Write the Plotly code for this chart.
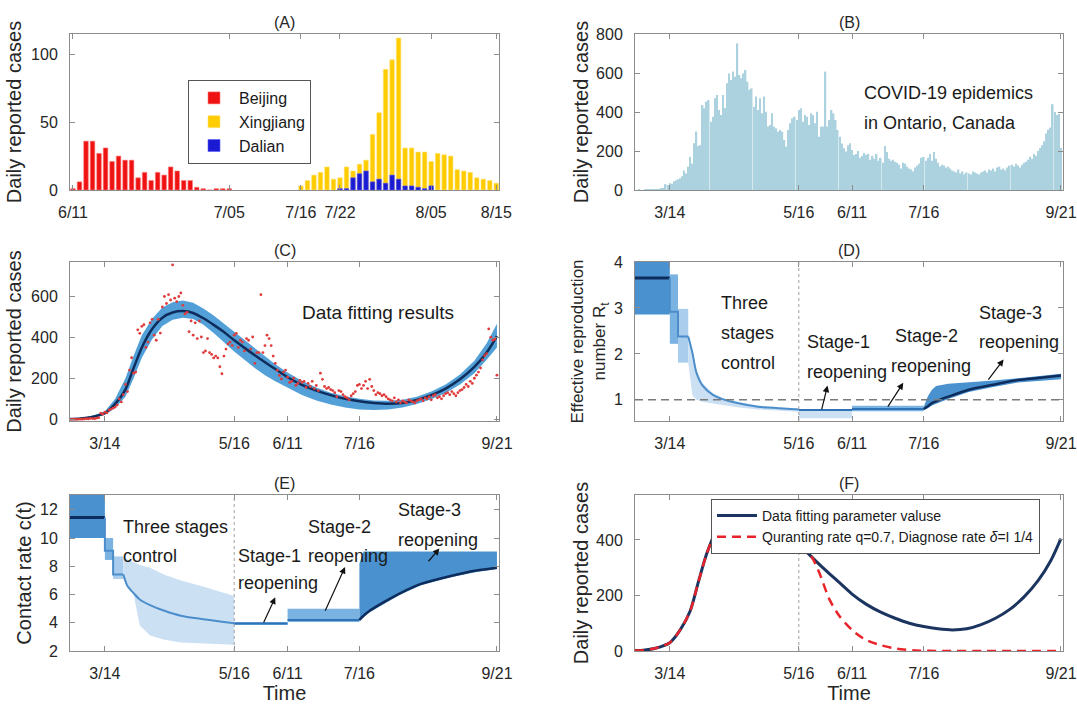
import plotly.graph_objects as go
import pandas as pd

FONT = "Liberation Sans, Arial, sans-serif"
W, H = 1077, 711

# ---------------- Panel A data ----------------
beijing_start = "2020-06-11"
beijing_cases = [1, 6, 36, 36, 27, 31, 21, 25, 22, 22, 9, 13, 7, 13, 11, 17, 14, 7, 7, 2, 1, 0, 1, 1, 1]
xinjiang_start = "2020-07-16"
xinjiang_cases = [3, 7, 11, 13, 17, 8, 9, 17, 14, 19, 22, 41, 57, 89, 96, 112,
                  31, 31, 28, 28, 21, 27, 26, 25, 15, 14, 13, 9, 8, 7, 5]
dalian_start = "2020-07-22"
dalian_cases = [1, 1, 9, 12, 14, 6, 8, 5, 11, 8, 3, 3, 2, 1, 3]
a_tickvals = ["2020-06-11", "2020-07-05", "2020-07-16", "2020-07-22", "2020-08-05", "2020-08-15"]
a_ticktext = ["6/11", "7/05", "7/16", "7/22", "8/05", "8/15"]

# ---------------- Ontario daily reported cases (panels B, C) ----------------
ontario_start = "2020-02-26"
ont_feb = [0, 0, 1, 0]
ont_mar = [0, 1, 1, 2, 3, 2, 5, 4, 3, 6, 8, 30, 25, 35, 32, 45, 50, 55, 60, 70,
           100, 85, 120, 170, 135, 240, 300, 225, 230, 436, 419]
ont_apr = [453, 461, 350, 376, 470, 487, 410, 385, 487, 420, 547, 598, 564, 607, 581,
           752, 590, 573, 598, 615, 555, 513, 521, 427, 479, 410, 470, 393, 479, 401]
ont_may = [325, 333, 393, 325, 316, 299, 308, 299, 256, 222, 308, 342, 367, 376, 359, 410,
           419, 350, 385, 376, 333, 393, 385, 342, 401, 273, 325, 325, 607, 325, 359]
ont_jun = [410, 393, 359, 308, 273, 239, 214, 197, 230, 240, 205, 180, 185, 200, 165,
           175, 190, 180, 185, 155, 175, 160, 185, 150, 165, 140, 225, 195, 160, 150]
ont_jul = [155, 145, 140, 130, 110, 140, 135, 120, 110, 105, 95, 115, 125, 135, 165, 170,
           150, 165, 185, 150, 195, 160, 140, 120, 130, 125, 115, 120, 110, 100, 95]
ont_aug = [90, 105, 85, 95, 80, 90, 85, 80, 95, 90, 85, 80, 90, 95, 100, 90,
           105, 100, 110, 95, 115, 120, 105, 110, 100, 115, 125, 130, 120, 135, 125]
ont_sep = [115, 130, 140, 145, 155, 170, 160, 185, 175, 200, 215, 230, 250, 290, 310,
           320, 440, 400, 385, 390, 215]
ont_cases = ont_feb + ont_mar + ont_apr + ont_may + ont_jun + ont_jul + ont_aug + ont_sep
ont_dates = pd.date_range(ontario_start, periods=len(ont_cases), freq="D")

t_tickvals = ["2020-03-14", "2020-05-16", "2020-06-11", "2020-07-16", "2020-09-21"]
t_ticktext = ["3/14", "5/16", "6/11", "7/16", "9/21"]

# ---------------- Panel C / F: model fit ----------------
fit_dates = ["2020-02-26", "2020-03-01", "2020-03-07", "2020-03-14", "2020-03-19", "2020-03-24",
             "2020-03-28", "2020-04-01", "2020-04-06", "2020-04-11", "2020-04-16", "2020-04-21",
             "2020-04-26", "2020-05-01", "2020-05-06", "2020-05-11", "2020-05-16", "2020-05-21",
             "2020-05-26", "2020-05-31", "2020-06-05", "2020-06-11", "2020-06-18", "2020-06-25",
             "2020-07-02", "2020-07-09", "2020-07-16", "2020-07-23", "2020-07-30", "2020-08-06",
             "2020-08-13", "2020-08-20", "2020-08-27", "2020-09-03", "2020-09-10", "2020-09-16",
             "2020-09-21"]
fit_cases = [2, 3, 10, 30, 75, 145, 250, 350, 440, 495, 520, 527, 518, 492, 460, 425, 385, 348,
             312, 278, 245, 205, 168, 140, 118, 100, 88, 80, 76, 80, 95, 118, 150, 195, 255, 325, 405]
fit_upper = [4, 5, 14, 40, 100, 200, 310, 410, 490, 545, 570, 578, 568, 540, 505, 465, 425, 385,
             345, 305, 268, 228, 188, 155, 130, 112, 100, 92, 90, 95, 110, 135, 170, 218, 285, 370, 465]
fit_lower = [0, 1, 7, 22, 55, 110, 200, 300, 390, 455, 485, 495, 488, 460, 420, 375, 330, 290,
             250, 215, 185, 152, 118, 92, 72, 58, 48, 45, 48, 58, 75, 98, 128, 170, 225, 290, 350]

q_dates = ["2020-02-26", "2020-03-01", "2020-03-07", "2020-03-14", "2020-03-19", "2020-03-24",
           "2020-03-28", "2020-04-01", "2020-04-06", "2020-04-11", "2020-04-16", "2020-04-21",
           "2020-04-26", "2020-05-01", "2020-05-06", "2020-05-11", "2020-05-16", "2020-05-19",
           "2020-05-21", "2020-05-23", "2020-05-26", "2020-05-31", "2020-06-05", "2020-06-12",
           "2020-06-18", "2020-06-25", "2020-07-03", "2020-07-12", "2020-07-25", "2020-08-15",
           "2020-09-21"]
q_cases = [2, 3, 10, 30, 75, 145, 250, 350, 440, 495, 520, 527, 518, 492, 460, 425, 385, 368,
           352, 330, 282, 185, 124, 69, 39, 21, 8, 2, 0, 0, 0]

# ---------------- Panel D: effective reproduction number ----------------
d0_dates = ["2020-02-26", "2020-03-14"]
d0_line, d0_lo, d0_hi = [3.65, 3.65], [2.86, 2.86], [4.0, 4.0]
d_step_dates = ["2020-03-14", "2020-03-18", "2020-03-23"]
d_step_line, d_step_lo, d_step_hi = [2.92, 2.38], [2.22, 1.81], [3.73, 2.98]
d_ctrl_dates = ["2020-03-23", "2020-03-25", "2020-03-27", "2020-03-30", "2020-04-04",
                "2020-04-09", "2020-04-16", "2020-04-26", "2020-05-06", "2020-05-16"]
d_ctrl_line = [2.38, 2.03, 1.59, 1.31, 1.11, 1.01, 0.93, 0.85, 0.82, 0.79]
d_ctrl_lo = [1.81, 1.10, 1.00, 0.96, 0.92, 0.88, 0.84, 0.79, 0.76, 0.74]
d_ctrl_hi = [2.45, 2.10, 1.65, 1.36, 1.15, 1.04, 0.96, 0.88, 0.84, 0.81]
d_s1_dates = ["2020-05-16", "2020-06-11"]
d_s1_line, d_s1_lo, d_s1_hi = [0.78, 0.78], [0.60, 0.60], [0.80, 0.80]
d_s2_dates = ["2020-06-11", "2020-07-16"]
d_s2_line, d_s2_lo, d_s2_hi = [0.80, 0.80], [0.75, 0.75], [0.87, 0.87]
d_s3_dates = ["2020-07-16", "2020-07-18", "2020-07-20", "2020-07-22", "2020-07-28",
              "2020-08-07", "2020-08-19", "2020-08-31", "2020-09-11", "2020-09-21"]
d_s3_line = [0.80, 0.86, 0.93, 0.97, 1.07, 1.22, 1.33, 1.43, 1.48, 1.53]
d_s3_hi = [0.85, 1.08, 1.22, 1.30, 1.35, 1.38, 1.42, 1.47, 1.52, 1.57]
d_s3_lo = [0.78, 0.82, 0.88, 0.92, 1.02, 1.17, 1.28, 1.38, 1.42, 1.45]

# ---------------- Panel E: contact rate ----------------
e0_dates = ["2020-02-26", "2020-03-14"]
e0_line, e0_lo, e0_hi = [11.45, 11.45], [10.0, 10.0], [13.05, 13.05]
e_step_dates = ["2020-03-14", "2020-03-18", "2020-03-23"]
e_step_line, e_step_lo, e_step_hi = [9.1, 7.42], [8.45, 7.1], [10.0, 8.7]
e_ctrl_dates = ["2020-03-23", "2020-03-25", "2020-03-28", "2020-03-31", "2020-04-05",
                "2020-04-12", "2020-04-20", "2020-04-30", "2020-05-10", "2020-05-16"]
e_ctrl_line = [7.42, 6.6, 6.1, 5.65, 5.25, 4.85, 4.5, 4.27, 4.08, 3.97]
e_ctrl_hi = [8.6, 8.5, 8.3, 8.1, 7.9, 7.4, 7.0, 6.6, 6.15, 5.9]
e_ctrl_lo = [7.1, 6.5, 6.0, 3.8, 3.1, 2.8, 2.6, 2.52, 2.48, 2.45]
e_s1_dates = ["2020-05-16", "2020-06-11"]
e_s1_line, e_s1_lo, e_s1_hi = [3.95, 3.95], [3.85, 3.85], [4.05, 4.05]
e_s2_dates = ["2020-06-11", "2020-07-16"]
e_s2_line, e_s2_lo, e_s2_hi = [4.2, 4.2], [4.05, 4.05], [5.0, 5.0]
e_s3_dates = ["2020-07-16", "2020-07-18", "2020-07-21", "2020-07-26", "2020-08-05",
              "2020-08-15", "2020-08-29", "2020-09-11", "2020-09-21"]
e_s3_line = [4.2, 4.5, 4.85, 5.3, 6.1, 6.75, 7.3, 7.7, 7.9]
e_s3_hi = [8.2, 9.05, 9.05, 9.05, 9.05, 9.05, 9.05, 9.05, 9.05]
e_s3_lo = [4.1, 4.4, 4.75, 5.2, 6.0, 6.65, 7.2, 7.6, 7.8]

# ---------------- colours ----------------
NAVY = "#0e2d5c"
CTRL = "#4b8ecb"
MID = "#2f72b6"
DARK = "rgb(74,146,207)"
MED = "rgb(122,178,226)"
LIGHT = "rgb(170,205,237)"
PALE = "rgb(204,224,244)"
CBAND = "rgb(82,160,215)"
DAY = 86400000

fig = go.Figure()


def band(xs, lo, hi, color, xa, ya):
    xs = list(xs)
    return go.Scatter(x=xs + xs[::-1], y=list(hi) + list(lo)[::-1], fill="toself",
                      fillcolor=color, line=dict(width=0), mode="lines",
                      hoverinfo="skip", showlegend=False, xaxis=xa, yaxis=ya)


def line(xs, ys, color, width, xa, ya, shape="linear", dash=None):
    return go.Scatter(x=list(xs), y=list(ys), mode="lines",
                      line=dict(color=color, width=width, shape=shape, dash=dash, smoothing=0.7),
                      hoverinfo="skip", showlegend=False, xaxis=xa, yaxis=ya)


# Panel A
fig.add_trace(go.Bar(x=pd.date_range(beijing_start, periods=len(beijing_cases)), y=beijing_cases,
                     width=0.7 * DAY, name="Beijing", legend="legend",
                     marker=dict(color="#ee1212", line=dict(color="#ff7b7b", width=0.6)),
                     xaxis="x", yaxis="y"))
fig.add_trace(go.Bar(x=pd.date_range(xinjiang_start, periods=len(xinjiang_cases)), y=xinjiang_cases,
                     width=0.7 * DAY, name="Xingjiang", legend="legend",
                     marker=dict(color="#ffcc00", line=dict(color="#ffe27a", width=0.6)),
                     xaxis="x", yaxis="y"))
fig.add_trace(go.Bar(x=pd.date_range(dalian_start, periods=len(dalian_cases)), y=dalian_cases,
                     width=0.7 * DAY, name="Dalian", legend="legend",
                     marker=dict(color="#1a1ad2", line=dict(color="#5b5bff", width=0.6)),
                     xaxis="x", yaxis="y"))

# Panel B
fig.add_trace(go.Bar(x=ont_dates, y=ont_cases, width=0.75 * DAY, showlegend=False,
                     marker=dict(color="rgb(172,210,223)", line=dict(width=0)),
                     xaxis="x2", yaxis="y2"))

# Panel C
fig.add_trace(band(fit_dates, fit_lower, fit_upper, CBAND, "x3", "y3"))
fig.add_trace(line(fit_dates, fit_cases, NAVY, 2.5, "x3", "y3", shape="spline"))
fig.add_trace(go.Scatter(x=ont_dates, y=ont_cases, mode="markers", showlegend=False,
                         marker=dict(color="#e03a3a", size=2.8), hoverinfo="skip",
                         xaxis="x3", yaxis="y3"))

# Panel D
fig.add_trace(band(d0_dates, d0_lo, d0_hi, DARK, "x4", "y4"))
fig.add_trace(band(d_step_dates[0:2], [d_step_lo[0]] * 2, [d_step_hi[0]] * 2, MED, "x4", "y4"))
fig.add_trace(band(d_step_dates[1:3], [d_step_lo[1]] * 2, [d_step_hi[1]] * 2, LIGHT, "x4", "y4"))
fig.add_trace(band(d_ctrl_dates, d_ctrl_lo, d_ctrl_hi, PALE, "x4", "y4"))
fig.add_trace(band(d_s1_dates, d_s1_lo, d_s1_hi, PALE, "x4", "y4"))
fig.add_trace(band(d_s2_dates, d_s2_lo, d_s2_hi, MED, "x4", "y4"))
fig.add_trace(band(d_s3_dates, d_s3_lo, d_s3_hi, DARK, "x4", "y4"))
fig.add_trace(line(d0_dates, d0_line, NAVY, 3, "x4", "y4"))
fig.add_trace(line([d_step_dates[0]] + d_step_dates, [d0_line[-1]] + d_step_line + [d_step_line[-1]],
                   CTRL, 2, "x4", "y4", shape="hv"))
fig.add_trace(line(d_ctrl_dates, d_ctrl_line, CTRL, 2, "x4", "y4", shape="spline"))
fig.add_trace(line(d_s1_dates, d_s1_line, MID, 2, "x4", "y4"))
fig.add_trace(line(d_s2_dates, d_s2_line, MID, 2, "x4", "y4"))
fig.add_trace(line(d_s3_dates, d_s3_line, NAVY, 2.5, "x4", "y4", shape="spline"))

# Panel E
fig.add_trace(band(e0_dates, e0_lo, e0_hi, DARK, "x5", "y5"))
fig.add_trace(band(e_step_dates[0:2], [e_step_lo[0]] * 2, [e_step_hi[0]] * 2, MED, "x5", "y5"))
fig.add_trace(band(e_step_dates[1:3], [e_step_lo[1]] * 2, [e_step_hi[1]] * 2, LIGHT, "x5", "y5"))
fig.add_trace(band(e_ctrl_dates, e_ctrl_lo, e_ctrl_hi, PALE, "x5", "y5"))
fig.add_trace(band(e_s1_dates, e_s1_lo, e_s1_hi, MED, "x5", "y5"))
fig.add_trace(band(e_s2_dates, e_s2_lo, e_s2_hi, MED, "x5", "y5"))
fig.add_trace(band(e_s3_dates, e_s3_lo, e_s3_hi, DARK, "x5", "y5"))
fig.add_trace(line(e0_dates, e0_line, NAVY, 3, "x5", "y5"))
fig.add_trace(line([e_step_dates[0]] + e_step_dates, [e0_line[-1]] + e_step_line + [e_step_line[-1]],
                   CTRL, 2, "x5", "y5", shape="hv"))
fig.add_trace(line(e_ctrl_dates, e_ctrl_line, CTRL, 2, "x5", "y5", shape="spline"))
fig.add_trace(line(e_s1_dates, e_s1_line, MID, 2, "x5", "y5"))
fig.add_trace(line(e_s2_dates, e_s2_line, MID, 2, "x5", "y5"))
fig.add_trace(line(e_s3_dates, e_s3_line, NAVY, 2.5, "x5", "y5", shape="spline"))

# Panel F
fig.add_trace(go.Scatter(x=fit_dates, y=fit_cases, mode="lines", name="Data fitting parameter valuse",
                         line=dict(color="#1b3560", width=3, shape="spline", smoothing=0.7),
                         legend="legend2", xaxis="x6", yaxis="y6"))
fig.add_trace(go.Scatter(x=q_dates, y=q_cases, mode="lines",
                         name="Quranting rate q=0.7, Diagnose rate <i>δ</i>=I 1/4",
                         line=dict(color="#e8232a", width=2.5, dash="9px,6px", shape="spline", smoothing=0.7),
                         legend="legend2", xaxis="x6", yaxis="y6"))

# ---------------- layout ----------------
COL1 = [70 / W, 499 / W]
COL2 = [635 / W, 1063 / W]
ROW1 = [1 - 190 / H, 1 - 34 / H]
ROW2 = [1 - 421 / H, 1 - 262 / H]
ROW3 = [1 - 651 / H, 1 - 495 / H]
TCOL = "#262626"
ACOL = "#8c8c8c"

base = dict(showline=True, linecolor=ACOL, linewidth=1, mirror="ticks", ticks="inside",
            ticklen=5, tickcolor=ACOL, showgrid=False, zeroline=False, automargin=False,
            ticklabeloverflow="allow", tickfont=dict(size=16, color=TCOL, family=FONT))


def xax(dom, anchor, rng, tv, tt, title=None):
    d = dict(base, domain=dom, anchor=anchor, type="date", range=rng, tickvals=tv, ticktext=tt,
             ticklabelstandoff=8)
    if title:
        d["title"] = dict(text=title, font=dict(size=20, color=TCOL, family=FONT), standoff=3)
    return d


def yax(dom, anchor, rng, tv, title, size=20, standoff=4):
    return dict(base, domain=dom, anchor=anchor, range=rng, tickvals=tv, ticklabelstandoff=8,
                title=dict(text=title, font=dict(size=size, color=TCOL, family=FONT), standoff=standoff))


T_RANGE = ["2020-02-26", "2020-09-22"]
fig.update_layout(
    width=W, height=H, margin=dict(l=0, r=0, t=0, b=0, autoexpand=False),
    paper_bgcolor="white", plot_bgcolor="white", barmode="overlay",
    font=dict(family=FONT, color=TCOL),
    xaxis=xax(COL1, "y", ["2020-06-10 13:00", "2020-08-15 10:00"], a_tickvals, a_ticktext),
    yaxis=yax(ROW1, "x", [0, 115], [0, 50, 100], "Daily reported cases", standoff=4),
    xaxis2=xax(COL2, "y2", T_RANGE, t_tickvals, t_ticktext),
    yaxis2=yax(ROW1, "x2", [0, 800], [0, 200, 400, 600, 800], "Daily reported cases", standoff=2),
    xaxis3=xax(COL1, "y3", T_RANGE, t_tickvals, t_ticktext),
    yaxis3=yax(ROW2, "x3", [-8, 766], [0, 200, 400, 600], "Daily reported cases", standoff=4),
    xaxis4=xax(COL2, "y4", T_RANGE, t_tickvals, t_ticktext),
    yaxis4=yax(ROW2, "x4", [0.54, 4.0], [1, 2, 3, 4],
               "Effective reproduction<br>number R<sub>t</sub>", size=17, standoff=3),
    xaxis5=xax(COL1, "y5", T_RANGE, t_tickvals, t_ticktext, title="Time"),
    yaxis5=yax(ROW3, "x5", [2, 13.05], [2, 4, 6, 8, 10, 12], "Contact rate c(t)", standoff=3),
    xaxis6=xax(COL2, "y6", T_RANGE, t_tickvals, t_ticktext, title="Time"),
    yaxis6=yax(ROW3, "x6", [0, 562], [0, 200, 400], "Daily reported cases", standoff=2),
    legend=dict(x=188 / W, y=1 - 80 / H, xanchor="left", yanchor="top", bgcolor="white",
                bordercolor="#555", borderwidth=1, font=dict(size=16, color="#1a1a1a", family=FONT),
                itemwidth=40, tracegroupgap=0),
    legend2=dict(x=711 / W, y=1 - 499 / H, xanchor="left", yanchor="top", bgcolor="white",
                 bordercolor="#555", borderwidth=1, font=dict(size=14, color="#1a1a1a", family=FONT),
                 itemwidth=40, tracegroupgap=0),
)

# dashed R=1 line and dotted 5/16 lines
fig.add_shape(type="line", xref="x4 domain", x0=0, x1=1, yref="y4", y0=1, y1=1,
              line=dict(color="#7a7a7a", width=1.5, dash="8px,5px"), layer="above")
for xa, ya in [("x4", "y4"), ("x5", "y5"), ("x6", "y6")]:
    fig.add_shape(type="line", xref=xa, x0="2020-05-16", x1="2020-05-16", yref=ya + " domain", y0=0, y1=1,
                  line=dict(color="#a0a0a0", width=1, dash="dot"), layer="above")

ann = []
# panel titles
for label, cx, ty in [("(A)", COL1, 34), ("(B)", COL2, 34), ("(C)", COL1, 262),
                      ("(D)", COL2, 262), ("(E)", COL1, 495), ("(F)", COL2, 495)]:
    ann.append(dict(text=label, xref="paper", yref="paper", x=(cx[0] + cx[1]) / 2, y=1 - (ty - 12) / H,
                    showarrow=False, font=dict(size=16, color=TCOL, family=FONT),
                    xanchor="center", yanchor="middle"))


def txt(s, x, y, xa, ya, size=18):
    return dict(text=s, x=x, y=y, xref=xa, yref=ya, showarrow=False, xanchor="left", yanchor="middle",
                font=dict(size=size, color="#1a1a1a", family=FONT))


ann += [
    txt("COVID-19 epidemics", "2020-06-16", 497, "x2", "y2"),
    txt("in Ontario, Canada", "2020-06-16", 344, "x2", "y2"),
    txt("Data fitting results", "2020-06-17", 520, "x3", "y3", size=19),
    txt("Three", "2020-04-07", 3.1, "x4", "y4"),
    txt("stages", "2020-04-07", 2.46, "x4", "y4"),
    txt("control", "2020-04-07", 1.81, "x4", "y4"),
    txt("Stage-1", "2020-05-19", 2.25, "x4", "y4"),
    txt("reopening", "2020-05-19", 1.6, "x4", "y4"),
    txt("Stage-2", "2020-07-01", 2.4, "x4", "y4"),
    txt("reopening", "2020-06-29", 1.74, "x4", "y4"),
    txt("Stage-3", "2020-08-11", 2.9, "x4", "y4"),
    txt("reopening", "2020-08-11", 2.27, "x4", "y4"),
    txt("Three stages", "2020-03-22", 10.76, "x5", "y5"),
    txt("control", "2020-03-22", 8.72, "x5", "y5"),
    txt("Stage-1", "2020-05-17", 8.72, "x5", "y5"),
    txt("reopening", "2020-05-17", 6.85, "x5", "y5"),
    txt("Stage-2", "2020-06-20", 10.76, "x5", "y5"),
    txt("reopening", "2020-06-20", 8.72, "x5", "y5"),
    txt("Stage-3", "2020-08-03", 12.0, "x5", "y5"),
    txt("reopening", "2020-08-03", 9.89, "x5", "y5"),
]


def arrow(xa, ya, tail, head):
    return dict(xref=xa, yref=ya, axref=xa, ayref=ya, x=head[0], y=head[1], ax=tail[0], ay=tail[1],
                text="", showarrow=True, arrowhead=2, arrowsize=1.1, arrowwidth=1.2, arrowcolor="#111")


ann += [
    arrow("x4", "y4", ("2020-05-27", 0.76), ("2020-05-30", 1.31)),
    arrow("x4", "y4", ("2020-06-28", 0.82), ("2020-07-06", 1.37)),
    arrow("x4", "y4", ("2020-08-16", 1.41), ("2020-08-24", 1.88)),
    arrow("x5", "y5", ("2020-05-30", 3.92), ("2020-06-05", 5.8)),
    arrow("x5", "y5", ("2020-06-29", 4.74), ("2020-07-09", 7.95)),
    arrow("x5", "y5", ("2020-08-18", 8.25), ("2020-08-24", 9.26)),
]
fig.update_layout(annotations=ann)

fig.write_html("out.html", config={"displayModeBar": False},
               post_script="document.body.style.margin='0px';document.body.style.overflow='hidden';")
